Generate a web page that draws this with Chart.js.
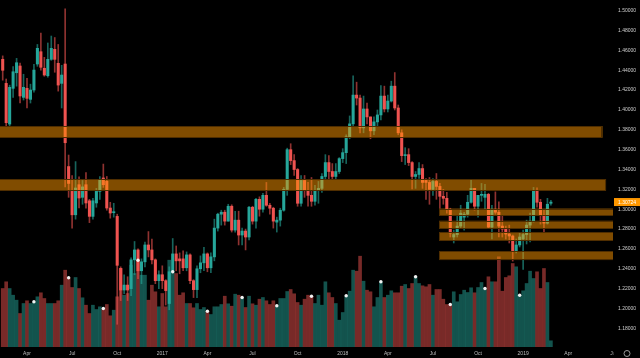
<!DOCTYPE html>
<html><head><meta charset="utf-8">
<script src="https://cdn.jsdelivr.net/npm/chart.js@4.4.1/dist/chart.umd.min.js"></script>
<style>html,body{margin:0;padding:0;background:#000;}#wrap{width:640px;height:358px;position:relative;}</style>
</head><body><div id="wrap"><canvas id="c"></canvas></div>
<script>
// Weekly candles, index 0 = week of 15 Feb 2016
const opens=[1.4510,1.4268,1.3858,1.4218,1.4375,1.4443,1.4127,1.4218,1.4107,1.4201,
1.4463,1.4587,1.4420,1.4345,1.4510,1.4611,1.4470,1.4268,1.4463,1.3430,
1.3180,1.2944,1.3247,1.3120,1.3247,1.3085,1.2928,1.3063,1.3180,1.3315,
1.3281,1.3012,1.2965,1.2928,1.2404,1.2186,1.2236,1.2200,1.2490,1.2590,
1.2380,1.2470,1.2640,1.2590,1.2490,1.2280,1.2340,1.2280,1.2050,1.2370,
1.2550,1.2500,1.2500,1.2410,1.2540,1.2280,1.2190,1.2400,1.2460,1.2550,
1.2410,1.2520,1.2810,1.2950,1.2970,1.2880,1.3030,1.2790,1.2890,1.2740,
1.2780,1.2720,1.3020,1.2880,1.3100,1.3000,1.3140,1.3040,1.3010,1.2870,
1.2890,1.2990,1.3200,1.3600,1.3490,1.3400,1.3060,1.3290,1.3190,1.3140,
1.3080,1.3190,1.3210,1.3330,1.3470,1.3380,1.3330,1.3380,1.3510,1.3570,
1.3730,1.3860,1.4150,1.4120,1.3820,1.4010,1.3930,1.3790,1.3880,1.3950,
1.4140,1.4010,1.4090,1.4240,1.4020,1.3770,1.3540,1.3550,1.3470,1.3330,
1.3350,1.3410,1.3290,1.3270,1.3200,1.3280,1.3230,1.3130,1.3110,1.3000,
1.2720,1.2745,1.2830,1.2920,1.2950,1.3070,1.3210,1.3030,1.3140,1.3120,
1.3150,1.2820,1.3000,1.2970,1.2830,1.2800,1.2750,1.2730,1.2580,1.2640,
1.2700,1.2745,1.2840,1.2880,1.3190,1.3070,1.2940,1.2860,1.3060];
const highs=[1.4545,1.4312,1.4250,1.4436,1.4520,1.4473,1.4360,1.4320,1.4260,1.4460,
1.4660,1.4775,1.4530,1.4675,1.4745,1.4730,1.4660,1.4450,1.5020,1.3546,
1.3340,1.3480,1.3327,1.3290,1.3370,1.3100,1.3110,1.3210,1.3330,1.3455,
1.3330,1.3070,1.3060,1.2950,1.2420,1.2340,1.2320,1.2510,1.2675,1.2600,
1.2500,1.2670,1.2775,1.2700,1.2500,1.2380,1.2430,1.2290,1.2420,1.2705,
1.2630,1.2560,1.2580,1.2570,1.2550,1.2290,1.2430,1.2530,1.2615,1.2560,
1.2560,1.2900,1.2960,1.2990,1.2990,1.3050,1.3045,1.2980,1.2980,1.2810,
1.2800,1.3030,1.3030,1.3110,1.3125,1.3160,1.3270,1.3060,1.3020,1.2920,
1.3010,1.3220,1.3615,1.3660,1.3550,1.3410,1.3340,1.3340,1.3270,1.3320,
1.3240,1.3280,1.3360,1.3550,1.3540,1.3460,1.3460,1.3520,1.3610,1.3750,
1.3940,1.4345,1.4280,1.4150,1.4140,1.4070,1.3930,1.3930,1.4000,1.4245,
1.4240,1.4150,1.4290,1.4377,1.4050,1.3800,1.3620,1.3610,1.3480,1.3380,
1.3470,1.3450,1.3310,1.3320,1.3310,1.3360,1.3260,1.3200,1.3170,1.3010,
1.2790,1.2930,1.3040,1.2970,1.3140,1.3300,1.3210,1.3110,1.3260,1.3250,
1.3160,1.3040,1.3175,1.3075,1.2930,1.2830,1.2840,1.2740,1.2700,1.2760,
1.2790,1.2890,1.2960,1.3220,1.3215,1.3100,1.2990,1.3110,1.3090];
const lows=[1.4300,1.3840,1.3835,1.4127,1.4240,1.4070,1.4100,1.4020,1.4070,1.4180,
1.4440,1.4400,1.4340,1.4330,1.4500,1.4380,1.4190,1.4020,1.3224,1.3120,
1.2810,1.2900,1.3012,1.3050,1.3010,1.2865,1.2900,1.3020,1.3100,1.3220,
1.2990,1.2910,1.2920,1.1841,1.2080,1.2150,1.2080,1.2130,1.2340,1.2300,
1.2250,1.2420,1.2520,1.2450,1.2250,1.2200,1.2200,1.2035,1.1987,1.2360,
1.2380,1.2350,1.2380,1.2380,1.2250,1.2110,1.2110,1.2360,1.2380,1.2370,
1.2360,1.2480,1.2780,1.2840,1.2840,1.2880,1.2770,1.2770,1.2640,1.2640,
1.2590,1.2690,1.2850,1.2810,1.2930,1.2970,1.3030,1.2950,1.2810,1.2770,
1.2830,1.2980,1.3140,1.3450,1.3340,1.3030,1.3030,1.3120,1.3030,1.3030,
1.3040,1.3060,1.3170,1.3300,1.3300,1.3300,1.3300,1.3360,1.3470,1.3460,
1.3710,1.3840,1.4050,1.3770,1.3770,1.3860,1.3710,1.3750,1.3840,1.3900,
1.3980,1.3980,1.4080,1.4000,1.3750,1.3480,1.3450,1.3440,1.3205,1.3210,
1.3310,1.3210,1.3100,1.3050,1.3140,1.3100,1.3010,1.3050,1.2960,1.2720,
1.2660,1.2720,1.2810,1.2790,1.2920,1.3060,1.2990,1.2920,1.3080,1.3000,
1.2810,1.2700,1.2950,1.2720,1.2720,1.2700,1.2660,1.2477,1.2560,1.2620,
1.2393,1.2650,1.2670,1.2870,1.3020,1.2850,1.2770,1.2850,1.3040];
const closes=[1.4400,1.3872,1.4228,1.4385,1.4476,1.4141,1.4228,1.4117,1.4201,1.4402,
1.4621,1.4430,1.4352,1.4510,1.4621,1.4510,1.4251,1.4352,1.3670,1.3260,
1.2944,1.3214,1.3113,1.3225,1.3063,1.2928,1.3085,1.3180,1.3297,1.3247,
1.3012,1.2962,1.2975,1.2435,1.2186,1.2236,1.2186,1.2490,1.2590,1.2380,
1.2470,1.2640,1.2590,1.2490,1.2280,1.2340,1.2280,1.2180,1.2370,1.2550,
1.2480,1.2480,1.2410,1.2540,1.2280,1.2190,1.2400,1.2460,1.2550,1.2410,
1.2520,1.2810,1.2950,1.2970,1.2880,1.3030,1.2790,1.2890,1.2740,1.2780,
1.2720,1.3020,1.2880,1.3100,1.3000,1.3140,1.3040,1.3010,1.2880,1.2890,
1.2990,1.3200,1.3600,1.3490,1.3400,1.3060,1.3290,1.3190,1.3140,1.3080,
1.3190,1.3210,1.3330,1.3470,1.3380,1.3330,1.3380,1.3510,1.3570,1.3730,
1.3860,1.4150,1.4120,1.3820,1.4010,1.3930,1.3790,1.3880,1.3950,1.4140,
1.4010,1.4090,1.4240,1.4020,1.3770,1.3540,1.3550,1.3470,1.3330,1.3350,
1.3410,1.3270,1.3270,1.3200,1.3280,1.3230,1.3130,1.3110,1.3000,1.2760,
1.2745,1.2830,1.2960,1.2950,1.3070,1.3210,1.3030,1.3140,1.3150,1.3150,
1.2820,1.3000,1.2970,1.2830,1.2800,1.2750,1.2730,1.2580,1.2640,1.2720,
1.2745,1.2840,1.2880,1.3190,1.3070,1.2940,1.2860,1.3050,1.3072];
const volumes=[58.5,65.2,58.5,51.8,46.8,33.5,43.5,46.2,43.5,45.2,
50.2,54.2,48.5,43.5,43.5,43.5,46.2,61.8,76.8,69.2,
59.5,69.5,58.5,49.2,41.8,33.5,41.8,37.5,40.2,38.5,
42.5,31.2,36.8,50.2,78.5,51.8,53.5,81.8,73.5,86.8,
71.8,71.8,46.8,61.8,55.2,40.2,53.5,40.2,86.8,75.2,
73.5,51.8,54.2,43.5,43.5,39.2,43.5,37.5,39.5,35.8,
32.5,40.2,40.2,42.5,50.8,43.2,40.8,52.8,51.8,49.5,
39.5,50.8,43.2,41.8,47.8,49.5,46.2,42.5,46.2,41.2,
48.5,48.5,55.5,57.5,53.2,44.5,41.8,47.8,51.8,50.8,
43.5,51.8,41.8,65.2,54.2,49.5,43.5,26.8,34.5,51.2,
55.8,76.8,75.8,90.8,65.8,56.8,55.2,40.2,49.5,65.2,
49.5,51.8,56.2,54.2,54.2,60.8,62.5,58.5,63.5,70.2,
63.5,61.2,60.2,62.5,51.8,57.5,57.5,47.8,42.5,42.5,
55.2,45.2,52.5,56.8,54.5,59.2,54.2,59.5,64.5,58.5,
70.2,65.2,65.2,90.2,55.8,69.5,71.2,83.5,80.2,51.8,
56.2,63.5,75.8,68.5,75.2,58.5,78.5,64.5,6.2];
const markerWeeks=[9,19,29,39,49,59,69,79,89,99,109,119,129,139,149];
const priceTicks=[1.18,1.20,1.22,1.24,1.26,1.28,1.30,1.32,1.34,1.36,1.38,1.40,1.42,1.44,1.46,1.48,1.50];
const monthTickWeeks=[7,20,33,46,59,72,85,98,111,124,137,150,163,176];
const monthTickLabels=['Apr','Jul','Oct','2017','Apr','Jul','Oct','2018','Apr','Jul','Oct','2019','Apr','Jul'];
const bandLow=[1.3720,1.3186,1.2938,1.2808,1.2680,1.2488];
const bandHigh=[1.3838,1.3304,1.3007,1.2884,1.2767,1.2579];
const bandFrom=[-5,-5,125.8,125.8,125.8,125.8];
const bandTo=[172.9,173.9,177,177,177,177];
const lastPrice=1.30724;

const UP='#26a69a', DN='#ef5350';
const isUp=opens.map((o,i)=>closes[i]>=o);
const idx=opens.map((_,i)=>i);
const noPad=s=>{s.paddingLeft=0;s.paddingRight=0;s.paddingTop=0;s.paddingBottom=0;};

const bandsPlugin={
  id:'bands',
  afterDatasetsDraw(chart){
    const {ctx,chartArea:a,scales:{x,y}}=chart;
    ctx.save();
    ctx.beginPath();ctx.rect(a.left,a.top,a.right-a.left,a.bottom-a.top);ctx.clip();
    for(let k=0;k<bandLow.length;k++){
      const x0=x.getPixelForValue(bandFrom[k]),x1=x.getPixelForValue(bandTo[k]);
      const y0=y.getPixelForValue(bandHigh[k]),y1=y.getPixelForValue(bandLow[k]);
      ctx.fillStyle='rgba(255,152,0,0.5)';
      ctx.fillRect(x0,y0,x1-x0,y1-y0);
      ctx.strokeStyle='rgba(80,46,0,1)';ctx.lineWidth=1;
      ctx.strokeRect(Math.round(x0)+0.5,Math.round(y0)+0.5,Math.round(x1-x0)-1,Math.round(y1-y0)-1);
    }
    ctx.restore();
  },
  afterDraw(chart){
    const {ctx,chartArea:a,scales:{y}}=chart;
    ctx.save();
    ctx.fillStyle='#000';
    ctx.fillRect(a.right+0.5,a.bottom+1,chart.width-a.right,chart.height-a.bottom);
    const yp=y.getPixelForValue(lastPrice);
    ctx.fillStyle='#ff9800';
    ctx.fillRect(a.right+1,yp-4,chart.width-a.right-1,8);
    ctx.fillStyle='#ffffff';
    ctx.font='5px "Liberation Sans", Arial, sans-serif';
    ctx.textBaseline='middle';ctx.textAlign='left';
    ctx.fillText(lastPrice.toFixed(5),a.right+5,yp+0.5);
    ctx.strokeStyle='#9a9a9a';ctx.lineWidth=1;
    ctx.beginPath();ctx.arc(a.right+14,chart.height-4.5,3,0,Math.PI*2);ctx.stroke();
    ctx.restore();
  }
};

new Chart(document.getElementById('c'),{
  type:'bar',
  data:{datasets:[
    {type:'scatter',label:'markers',yAxisID:'yv',order:0,
     data:markerWeeks.map(i=>({x:i,y:volumes[i]})),
     pointRadius:1.7,pointHoverRadius:0,pointBackgroundColor:'#f2f2f2',pointBorderWidth:0},
    {label:'bodies',yAxisID:'y',order:1,grouped:false,
     data:idx.map(i=>({x:i,y:[opens[i],closes[i]]})),
     backgroundColor:idx.map(i=>isUp[i]?UP:DN),barThickness:2.4,minBarLength:1},
    {label:'wicks',yAxisID:'y',order:2,grouped:false,
     data:idx.map(i=>({x:i,y:[lows[i],highs[i]]})),
     backgroundColor:idx.map(i=>isUp[i]?'rgba(38,166,154,0.6)':'rgba(239,83,80,0.6)'),barThickness:1},
    {label:'volume',yAxisID:'yv',order:3,grouped:false,
     data:idx.map(i=>({x:i,y:volumes[i]})),
     backgroundColor:idx.map(i=>isUp[i]?'rgba(38,166,154,0.5)':'rgba(239,83,80,0.5)'),barThickness:3}
  ]},
  options:{
    responsive:true,maintainAspectRatio:false,animation:false,events:[],devicePixelRatio:1,
    layout:{padding:0,autoPadding:false},
    plugins:{legend:{display:false},tooltip:{enabled:false}},
    scales:{
      x:{type:'linear',min:-0.78,max:175.9,offset:false,position:'bottom',
         grid:{display:false,drawTicks:false,tickLength:0},border:{display:false},
         afterBuildTicks:s=>{s.ticks=monthTickWeeks.map(v=>({value:v}));},
         afterFit:s=>{s.height=11;noPad(s);},
         ticks:{autoSkip:false,maxRotation:0,padding:4,color:'#bdbdbd',
           font:{size:5,family:'"Liberation Sans", Arial, sans-serif'},
           callback:v=>{const k=monthTickWeeks.indexOf(v);return k<0?'':monthTickLabels[k];}}},
      y:{type:'linear',position:'right',min:1.1612,max:1.5108,
         grid:{display:false,drawTicks:false,tickLength:0},border:{display:false},
         afterBuildTicks:s=>{s.ticks=priceTicks.map(v=>({value:v}));},
         afterFit:s=>{s.width=27;noPad(s);},
         ticks:{padding:5,color:'#cfcfcf',font:{size:5,family:'"Liberation Sans", Arial, sans-serif'},
           callback:v=>Number(v).toFixed(5)}},
      yv:{type:'linear',display:false,min:0,max:347}
    }
  },
  plugins:[bandsPlugin]
});
</script></body></html>
